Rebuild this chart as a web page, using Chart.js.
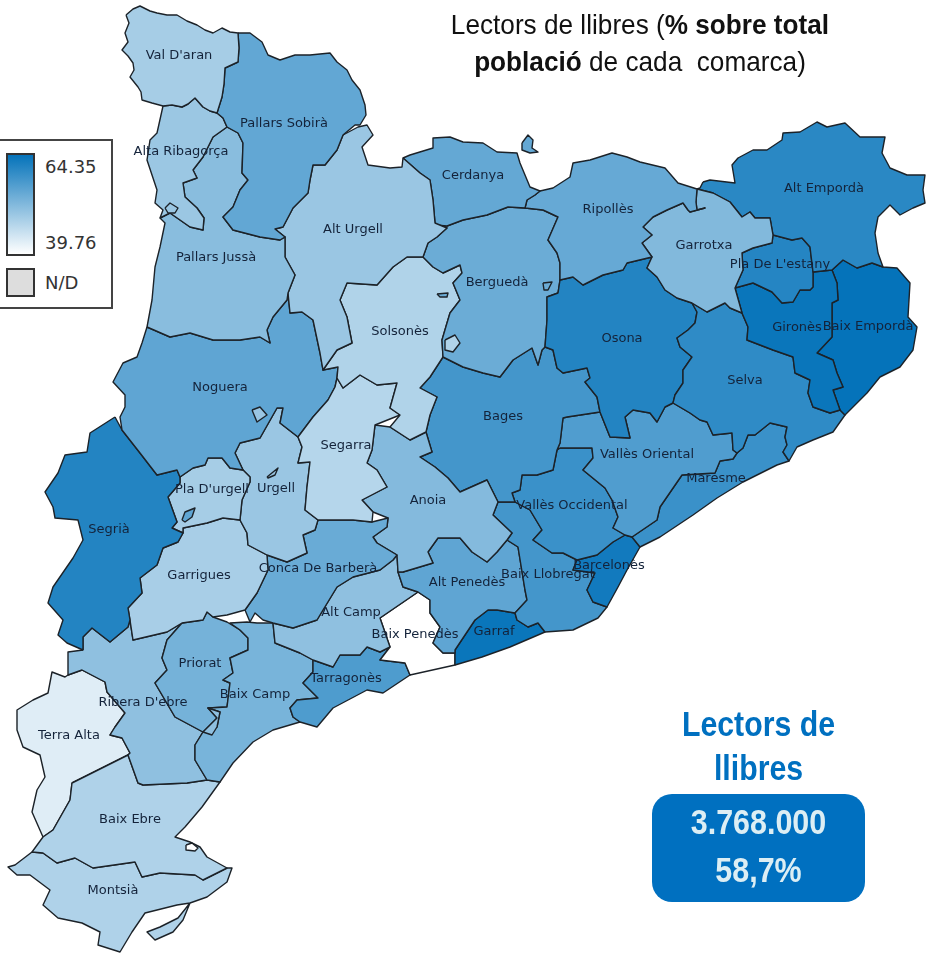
<!DOCTYPE html>
<html lang="ca">
<head>
<meta charset="UTF-8">
<script src="https://cdn.jsdelivr.net/npm/chart.js@4"></script>
<style>
  html, body { margin: 0; padding: 0; background: #fff; overflow: hidden; }
  #wrap { position: relative; width: 927px; height: 953px; }
  #mapa { position: absolute; left: 0; top: 0; }
  .narrow { font-family: "Liberation Sans", sans-serif; }
  .t { position: absolute; white-space: nowrap; text-align: center; }
  #titol { left: 400px; width: 480px; top: 6px; font-size: 28px; line-height: 37px; color: #111; transform: scaleX(0.935); }
  #cap { left: 652px; width: 213px; top: 702px; font-size: 35px; line-height: 44px; font-weight: bold; color: #0070c0; transform: scaleX(0.865); }
  #caixa { position: absolute; left: 652px; top: 794px; width: 213px; height: 108px; border-radius: 20px; background: #0070c0; }
  #xifres { position: absolute; left: 652px; top: 798px; width: 213px; color: #dceef4; font-size: 35px; line-height: 48px; font-weight: bold; text-align: center; transform: scaleX(0.87); }
  #llegenda { position: absolute; left: -3px; top: 139px; width: 112px; height: 166px; border: 2px solid #444; background: #fff; font-family: "DejaVu Sans", sans-serif; font-size: 18px; color: #333; }
  #barra { position: absolute; left: 7px; top: 12px; width: 25px; height: 99px; border: 2px solid #333; background: linear-gradient(#0573ba, #fff); }
  #nd { position: absolute; left: 7px; top: 127px; width: 25px; height: 25px; border: 2px solid #333; background: #ddd; }
  .ll { position: absolute; left: 46px; }
</style>
</head>
<body>
<div id="wrap">
  <canvas id="mapa" width="927" height="953"></canvas>
  <div id="titol" class="t narrow">Lectors de llibres (<b>% sobre total</b><br><b>població</b> de cada&nbsp; comarca)</div>
  <div id="cap" class="t narrow">Lectors de<br>llibres</div>
  <div id="caixa"></div>
  <div id="xifres" class="narrow">3.768.000<br>58,7%</div>
  <div id="llegenda">
    <div id="barra"></div>
    <div id="nd"></div>
    <div class="ll" style="top:15px">64.35</div>
    <div class="ll" style="top:91px">39.76</div>
    <div class="ll" style="top:131px">N/D</div>
  </div>
</div>
<script>
// comarques i % de lectors (llegit del color del mapa)
const comarques = ["Val D'aran","Pallars Sobirà","Alta Ribagorça","Pallars Jussà","Alt Urgell","Cerdanya","Ripollès","Garrotxa","Alt Empordà","Pla De L'estany","Gironès","Baix Empordà","Selva","Osona","Berguedà","Solsonès","Segarra","Noguera","Segrià","Pla D'urgell","Urgell","Garrigues","Conca De Barberà","Anoia","Bages","Vallès Oriental","Vallès Occidental","Maresme","Barcelonès","Baix Llobregat","Alt Penedès","Garraf","Alt Camp","Baix Penedès","Tarragonès","Baix Camp","Priorat","Ribera D'ebre","Baix Ebre","Montsià","Terra Alta"];
const lectors = [48.5,55.2,49.6,51.4,49.7,55.0,54.8,52.1,60.7,61.2,63.9,64.35,60.2,61.4,54.3,47.5,47.0,55.5,61.4,48.5,49.7,48.3,54.5,51.9,58.2,57.0,59.1,59.1,63.1,58.2,55.5,63.9,50.8,39.76,57.2,53.0,53.3,50.8,47.6,47.6,42.9];
const escalaMin = 39.76, escalaMax = 64.35;

// contorns de cada comarca, x,y en coordenades del mapa
const valDaran = [126,15,133,9,140,6,150,11,157,13,167,15,177,15,187,21,197,25,205,30,213,33,222,28,230,32,238,33,239,48,238,62,225,68,224,84,222,97,217,113,210,111,203,107,195,98,188,104,182,107,172,105,163,106,152,103,142,100,141,92,138,87,130,77,134,70,133,63,128,56,122,50,128,42,125,33,129,23];
const pallarsSobira = [238,33,250,33,262,42,268,55,280,60,295,55,310,55,330,53,337,62,347,70,352,80,360,90,365,105,366,115,360,125,355,125,343,135,337,150,325,165,313,165,310,180,308,193,293,208,283,227,275,229,285,237,280,240,260,237,233,230,223,217,233,207,240,190,248,180,242,173,243,143,238,133,227,127,223,118,217,113,222,97,224,84,225,68,238,62,239,48];
const altaRibagorca = [163,106,172,105,182,107,188,104,195,98,203,107,210,111,217,113,223,118,227,127,213,137,203,157,193,170,197,178,183,183,185,197,197,208,204,218,203,230,190,227,170,213,160,218,163,210,155,203,157,190,147,160,150,140,157,133];
const pallarsJussa = [160,218,170,213,190,227,203,230,204,218,197,208,185,197,183,183,197,178,193,170,203,157,213,137,227,127,238,133,243,143,242,173,248,180,240,190,233,207,223,217,233,230,260,237,280,240,285,237,285,257,295,275,288,293,287,300,273,317,267,330,270,343,260,337,240,340,213,340,190,333,170,337,147,327,152,300,155,267,160,247,165,223];
const altUrgell = [343,135,358,127,367,125,373,135,362,147,368,165,390,168,402,167,403,158,420,173,430,180,433,200,435,223,447,228,437,237,428,243,423,257,407,257,393,267,377,285,347,283,340,300,347,317,352,343,337,350,323,370,320,353,313,320,302,312,290,313,288,293,295,275,285,257,285,237,275,229,283,227,293,208,308,193,310,180,313,165,325,165,337,150];
const cerdanya = [403,158,410,155,433,148,433,138,450,137,463,142,483,143,497,152,517,153,520,163,530,187,540,191,535,195,527,200,525,208,508,207,487,215,463,220,447,226,435,225,435,223,433,200,430,180,420,173];
const ripolles = [540,191,553,188,570,177,573,163,590,160,612,153,627,157,640,162,665,168,678,183,697,189,696,202,697,210,705,208,690,212,688,210,683,203,667,210,653,217,643,227,652,235,642,243,652,257,627,263,623,270,603,275,583,285,573,277,560,280,560,263,557,253,548,240,558,217,543,210,525,208,527,200,535,195];
const garrotxa = [697,189,713,193,730,202,742,217,750,212,755,218,770,218,773,235,772,243,753,248,742,253,743,270,735,288,742,313,730,308,725,303,707,312,692,303,677,298,665,290,657,277,647,268,652,257,642,243,652,235,643,227,653,217,667,210,683,203,688,210,690,212,705,208,697,210,696,202];
const altEmporda = [703,182,710,180,735,183,732,165,738,158,753,150,767,150,782,140,783,133,800,132,817,122,827,127,845,123,860,137,885,137,882,153,890,168,907,175,925,175,923,190,925,203,913,208,900,215,890,205,878,217,875,233,878,253,883,267,872,263,857,268,843,260,832,270,813,272,810,247,802,238,792,240,773,235,770,218,755,218,750,212,742,217,730,202,713,193,697,189,700,188];
const plaEstany = [773,235,792,240,802,238,810,247,813,272,813,287,810,290,800,290,793,302,782,303,772,292,753,283,735,288,743,270,742,253,753,248,772,243];
const girones = [735,288,753,283,772,292,782,303,793,302,800,290,810,290,813,287,813,272,832,270,837,283,838,300,832,303,832,317,832,337,817,353,833,360,837,373,843,387,833,390,840,410,830,413,813,407,808,393,810,380,795,373,793,357,773,350,747,340,748,327,742,313];
const baixEmporda = [832,270,843,260,857,268,872,263,883,267,897,268,910,283,908,317,917,327,913,350,900,367,880,377,867,393,845,415,840,410,833,390,843,387,837,373,833,360,817,353,832,337,832,317,832,303,838,300,837,283];
const selva = [742,313,748,327,747,340,773,350,793,357,795,373,810,380,808,393,813,407,830,413,840,410,845,415,833,432,813,440,797,447,789,461,783,452,787,445,785,437,787,427,770,423,755,435,748,435,743,448,737,453,733,450,732,433,713,435,707,422,700,420,690,413,673,403,675,395,683,383,683,370,692,357,680,347,677,338,688,330,695,323,697,312,692,303,707,312,725,303,730,308];
const osona = [652,257,647,268,657,277,665,290,677,298,692,303,697,312,695,323,688,330,677,338,680,347,692,357,683,370,683,383,675,395,673,403,665,407,657,422,650,413,633,410,625,417,630,438,610,437,600,412,597,397,585,382,590,378,587,368,563,373,557,368,553,350,545,347,547,320,547,297,558,293,560,280,573,277,583,285,603,275,623,270,627,263];
const bergueda = [525,208,543,210,558,217,548,240,557,253,560,263,560,280,558,293,547,297,547,320,545,347,542,350,538,365,532,348,513,360,500,377,483,373,463,367,443,357,442,340,447,323,450,313,460,300,453,283,462,273,460,265,443,273,433,267,423,257,428,243,437,237,447,228,435,225,447,226,463,220,487,215,508,207];
const solsones = [347,283,377,285,393,267,407,257,423,257,433,267,443,273,460,265,462,273,453,283,460,300,450,313,447,323,442,340,443,357,430,377,420,388,437,397,430,415,426,432,410,440,390,427,400,415,390,408,397,383,377,385,360,375,343,388,337,378,338,367,323,370,337,350,352,343,347,317,340,300];
const segarra = [337,378,343,388,360,375,377,385,397,383,390,408,400,415,375,425,372,450,367,463,377,470,387,487,362,500,373,512,372,522,353,520,318,520,305,510,307,487,310,462,298,463,302,447,298,437,313,417,328,400,335,387];
const noguera = [147,327,170,337,190,333,213,340,240,340,260,337,270,343,267,330,273,317,287,300,288,293,290,313,302,312,313,320,320,353,323,370,338,367,337,378,335,387,328,400,313,417,298,437,280,423,283,408,277,408,260,438,240,443,235,453,243,470,230,468,222,458,208,458,205,465,193,468,180,477,177,470,157,475,140,453,122,430,120,417,125,407,125,395,113,382,123,363,137,357,142,343];
const segria = [115,417,122,430,140,453,157,475,177,470,180,477,180,483,168,497,177,522,172,528,183,533,178,542,163,548,157,565,140,578,142,593,128,608,130,620,128,627,110,642,92,628,83,637,83,650,67,643,58,635,63,620,48,603,53,587,73,558,83,540,78,520,55,518,53,507,45,492,58,473,65,455,87,452,90,433];
const plaUrgell = [180,477,193,468,205,465,208,458,222,458,230,468,243,470,250,477,250,482,242,500,240,520,223,518,207,523,183,528,183,533,172,528,177,522,168,497,180,483];
const urgell = [240,443,260,438,277,408,283,408,280,423,298,437,302,447,298,463,310,462,307,487,305,510,318,520,315,530,303,535,307,553,287,562,267,555,248,545,247,533,240,520,242,500,250,482,250,477,243,470,235,453];
const garrigues = [183,533,183,528,207,523,223,518,240,520,247,533,248,545,267,555,268,570,257,593,245,610,227,615,213,617,207,612,203,620,182,623,167,632,133,640,130,620,128,608,142,593,140,578,157,565,163,548,178,542];
const concaBarbera = [318,520,353,520,372,522,388,518,387,527,373,537,377,543,397,555,393,560,380,570,353,577,337,587,323,610,317,620,293,628,273,623,263,620,255,613,250,622,245,610,257,593,268,570,267,555,287,562,307,553,303,535,315,530];
const anoia = [375,425,390,427,410,440,426,432,432,452,420,457,435,467,448,478,460,492,487,480,498,502,493,515,512,533,507,540,497,552,487,562,472,552,460,538,438,538,428,552,433,563,403,572,398,572,397,555,377,543,373,537,387,527,388,518,373,512,362,500,387,487,377,470,367,463,372,450];
const bages = [420,388,430,377,443,357,463,367,483,373,500,377,513,360,532,348,538,365,542,350,545,347,553,350,557,368,563,373,587,368,590,378,585,382,597,397,600,412,567,417,563,418,560,443,557,450,553,470,537,475,522,475,520,490,512,493,515,502,498,502,487,480,460,492,448,478,435,467,420,457,432,452,426,432,430,415,437,397];
const vallesOriental = [563,418,567,417,600,412,610,437,630,438,625,417,633,410,650,413,657,422,665,407,673,403,690,413,700,420,707,422,713,435,732,433,733,450,737,453,733,459,720,461,715,473,682,475,660,507,657,520,632,537,625,535,613,528,618,517,612,500,605,488,583,470,593,458,592,448,560,448,557,450,560,443];
const vallesOccidental = [512,493,520,490,522,475,537,475,553,470,557,450,560,448,592,448,593,458,583,470,605,488,612,500,618,517,613,528,625,535,613,542,597,555,577,560,563,553,552,553,533,540,542,530,530,510,515,502];
const maresme = [632,537,657,520,660,507,682,475,715,473,720,461,733,459,737,453,743,448,748,435,755,435,770,423,787,427,785,437,787,445,783,452,789,461,777,465,743,482,717,498,693,515,660,537,640,547];
const barcelones = [625,535,632,537,640,547,627,570,618,587,607,607,593,602,587,590,595,573,573,570,577,560,597,555,613,542];
const baixLlobregat = [498,502,515,502,530,510,542,530,533,540,552,553,563,553,577,560,573,570,595,573,587,590,593,602,607,607,598,618,573,630,545,632,538,623,528,627,517,620,515,613,527,600,525,590,518,547,507,540,512,533,493,515];
const altPenedes = [398,572,403,572,433,563,428,552,438,538,460,538,472,552,487,562,497,552,507,540,518,547,525,590,527,600,515,613,497,610,488,610,475,620,455,650,455,653,443,653,433,643,440,627,430,613,430,600,418,592,403,587];
const garraf = [455,665,455,650,475,620,488,610,497,610,515,613,517,620,528,627,538,623,545,632,510,647,482,657];
const altCamp = [273,623,293,628,317,620,323,610,337,587,353,577,380,570,393,560,397,555,398,572,403,587,418,592,380,618,390,647,380,652,367,647,360,655,340,655,333,667,313,660,300,653,275,643];
const baixPenedes = [418,592,430,600,430,613,440,627,433,643,443,653,455,653,455,665,410,675,405,663,380,660,390,647,380,618];
const tarragones = [313,660,333,667,340,655,360,655,367,647,380,652,390,647,380,660,405,663,410,675,383,693,367,690,333,708,317,727,300,722,293,717,290,708,297,700,318,698,303,683,313,672];
const baixCamp = [240,630,230,623,247,622,257,623,273,623,275,643,300,653,313,660,313,672,303,683,318,698,297,700,290,708,293,717,300,722,273,730,253,742,233,763,220,782,207,780,195,760,195,745,203,732,217,727,220,712,208,708,227,707,230,683,223,680,233,673,230,658,248,650,248,638];
const priorat = [182,623,203,620,207,612,213,617,227,622,240,630,248,638,248,650,230,658,233,673,223,680,230,683,227,707,208,708,217,718,203,732,175,717,155,683,167,670,162,658,167,640];
const riberaEbre = [83,650,83,637,92,628,110,642,128,627,130,620,133,640,167,632,182,623,167,640,162,658,167,670,155,683,175,717,203,732,195,745,195,760,207,780,187,783,143,785,138,783,128,755,130,753,122,738,110,735,115,727,125,713,107,692,105,682,82,670,68,675,68,652];
const baixEbre = [72,783,128,755,138,783,143,785,187,783,207,780,220,782,202,807,185,827,175,837,190,842,200,847,207,857,227,868,203,880,195,875,160,873,142,877,135,862,93,868,75,858,57,863,43,853,32,852,43,837,53,830,70,800];
const montsia = [32,852,43,853,57,863,75,858,93,868,135,862,142,877,160,873,195,875,203,880,227,868,232,868,227,882,207,897,190,903,183,920,173,932,155,940,147,932,160,927,178,918,190,903,177,905,145,913,132,932,120,952,98,945,100,932,82,923,58,918,43,905,50,890,30,875,17,875,8,867,15,865];
const terraAlta = [68,675,82,670,105,682,107,692,125,713,115,727,110,735,122,738,130,753,128,755,72,783,70,800,53,830,43,837,32,812,37,790,45,777,40,755,23,747,17,730,17,710,33,700,48,693,52,672,65,677];
const contorns = [valDaran,pallarsSobira,altaRibagorca,pallarsJussa,altUrgell,cerdanya,ripolles,garrotxa,altEmporda,plaEstany,girones,baixEmporda,selva,osona,bergueda,solsones,segarra,noguera,segria,plaUrgell,urgell,garrigues,concaBarbera,anoia,bages,vallesOriental,vallesOccidental,maresme,barcelones,baixLlobregat,altPenedes,garraf,altCamp,baixPenedes,tarragones,baixCamp,priorat,riberaEbre,baixEbre,montsia,terraAlta];

// enclavaments i llacunes, van al damunt
const enclavaments = [
    [522,143,528,135,533,140,532,148,538,152,530,153,522,150],
    [165,208,170,203,178,208,175,213,168,213],
    [252,410,260,407,267,415,257,422],
    [267,477,278,468,275,475,268,478],
    [182,520,185,512,195,508,192,517,185,522],
    [543,283,552,282,548,290,544,290],
    [445,340,455,335,460,343,453,352,445,350],
    [437,294,448,293,447,297,440,297],
    [203,732,217,718,208,708,220,712,217,727,212,735],
    [186,845,192,843,198,848,195,851,186,850]
];
const enclavamentValors = [55.0,49.6,49.7,49.7,55.5,54.3,47.5,54.3,50.8,39.76];

// on va cada nom
const etiquetaX = [179,284,181,216,353,473,608,704,824,780,797,868,745,622,497,400,346,220,109,212,276,199,318,428,503,647,572,716,609,548,467,494,351,415,346,255,200,143,130,113,69];
const etiquetaY = [56,124,152,258,230,176,210,246,189,265,328,327,381,339,283,332,446,388,530,490,489,576,569,501,417,455,506,479,566,575,583,632,613,635,679,695,664,703,820,891,736];

function colorDe(v) {
    var t = (v - escalaMin) / (escalaMax - escalaMin);
    var r = Math.round(255 - 250 * t), g = Math.round(255 - 140 * t), b = Math.round(255 - 69 * t);
    return "rgb(" + r + "," + g + "," + b + ")";
}
function punts(c) {
    var p = [];
    for (var i = 0; i < c.length; i += 2) p.push({ x: c[i], y: c[i + 1] });
    p.push({ x: c[0], y: c[1] });
    return p;
}
function capa(nom, contorn, valor) {
    return {
        label: nom,
        data: punts(contorn),
        showLine: true,
        fill: "shape",
        tension: 0,
        pointRadius: 0,
        borderWidth: 1.4,
        borderColor: "#1c2228",
        borderJoinStyle: "round",
        backgroundColor: colorDe(valor)
    };
}

var noms = {
    id: "noms",
    afterDatasetsDraw: function (chart) {
        var ctx = chart.ctx, sx = chart.scales.x, sy = chart.scales.y;
        ctx.save();
        ctx.font = "13px 'DejaVu Sans', sans-serif";
        ctx.fillStyle = "#14233a";
        ctx.textAlign = "center";
        ctx.textBaseline = "middle";
        for (var i = 0; i < comarques.length; i++) {
            ctx.fillText(comarques[i], sx.getPixelForValue(etiquetaX[i]), sy.getPixelForValue(etiquetaY[i]));
        }
        ctx.restore();
    }
};

// chart.js pinta primer l'ultim dataset, els enclavaments han d'anar davant
var capes = enclavaments.map(function (c, i) { return capa("enclavament", c, enclavamentValors[i]); });
comarques.forEach(function (nom, i) { capes.push(capa(nom, contorns[i], lectors[i])); });

var mapa = new Chart(document.getElementById("mapa").getContext("2d"), {
    type: "scatter",
    data: { datasets: capes },
    options: {
        responsive: false,
        animation: false,
        layout: { padding: 0 },
        plugins: { legend: { display: false }, tooltip: { enabled: false } },
        scales: {
            x: { type: "linear", min: 0, max: 927, display: false },
            y: { type: "linear", min: 0, max: 953, reverse: true, display: false }
        }
    },
    plugins: [noms]
});
</script>
</body>
</html>
